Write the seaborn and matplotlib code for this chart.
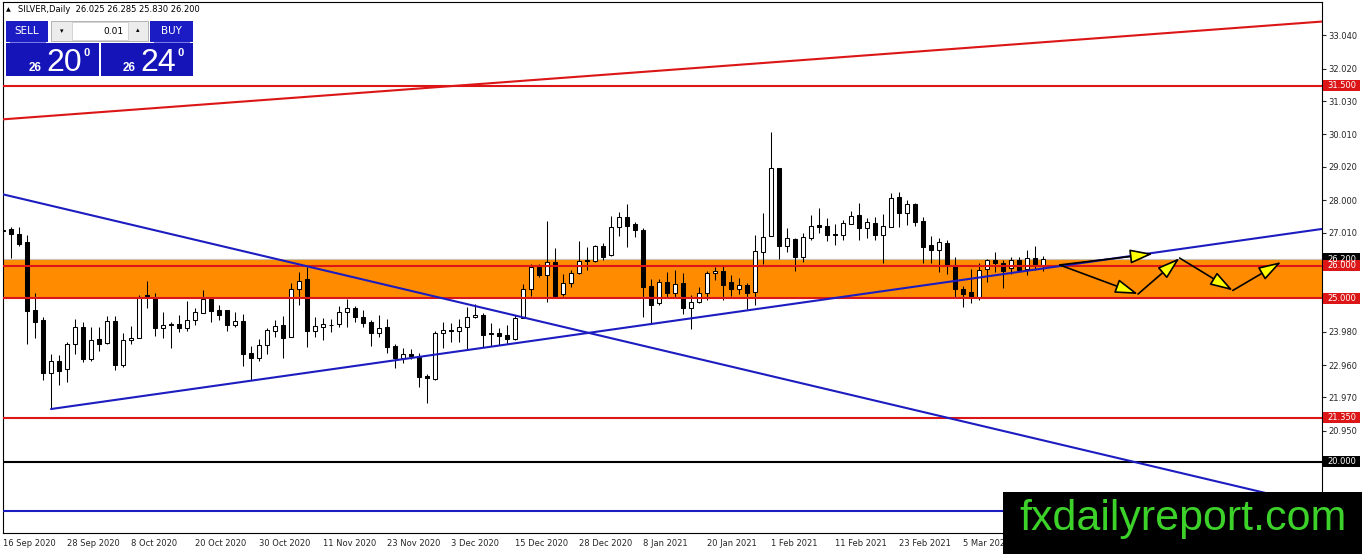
# -*- coding: utf-8 -*-
# SILVER daily chart (MT4 style) with levels, trend lines and forecast path
import numpy as np
import pandas as pd
import seaborn as sns
import matplotlib
matplotlib.use("Agg")
import matplotlib.pyplot as plt
from matplotlib.patches import Rectangle, FancyArrowPatch

W, H = 1362, 554

# --------------------------------------------------------------------
# data
# --------------------------------------------------------------------
date_labels = ["16 Sep 2020", "28 Sep 2020", "8 Oct 2020", "20 Oct 2020",
               "30 Oct 2020", "11 Nov 2020", "23 Nov 2020", "3 Dec 2020",
               "15 Dec 2020", "28 Dec 2020", "8 Jan 2021", "20 Jan 2021",
               "1 Feb 2021", "11 Feb 2021", "23 Feb 2021", "5 Mar 2021"]
label_step = 8

opens = [27.10, 27.11, 26.97, 26.72, 24.64, 24.34, 22.71, 23.07, 22.83, 23.59,
         24.11, 23.15, 23.76, 23.62, 24.30, 22.97, 23.72, 23.78, 25.09, 25.00,
         24.08, 24.21, 24.21, 24.08, 24.33, 24.56, 24.97, 24.64, 24.64, 24.18,
         24.31, 23.32, 23.18, 23.56, 24.01, 24.18, 23.83, 25.29, 25.59, 24.01,
         24.13, 24.19, 24.20, 24.58, 24.69, 24.42, 24.29, 23.95, 24.11, 23.54,
         23.18, 23.29, 23.21, 22.62, 22.53, 23.93, 24.02, 23.99, 24.12, 24.42,
         24.49, 23.93, 23.93, 23.89, 23.76, 24.41, 25.28, 25.95, 25.71, 26.10,
         25.12, 25.46, 25.76, 26.16, 26.15, 26.60, 26.32, 27.17, 27.47, 27.26,
         27.09, 25.37, 24.85, 25.49, 25.15, 25.46, 24.69, 24.90, 25.15, 25.76,
         25.83, 25.49, 25.27, 25.41, 25.20, 26.43, 26.91, 28.99, 26.61, 26.81,
         26.27, 26.83, 27.24, 27.21, 26.97, 26.93, 27.27, 27.55, 27.16, 27.31,
         26.95, 27.19, 28.11, 27.60, 27.88, 27.36, 26.63, 26.48, 26.70, 26.02,
         25.28, 25.18, 25.03, 25.89, 26.17, 26.07, 25.92, 26.17, 25.89, 26.22,
         26.025]
highs = [27.39, 27.19, 27.17, 26.94, 25.17, 24.42, 23.30, 23.27, 23.67, 24.37,
         24.29, 24.13, 24.13, 24.46, 24.46, 23.93, 24.15, 25.10, 25.54, 25.15,
         24.57, 24.29, 24.48, 24.92, 24.70, 25.25, 25.05, 24.80, 24.64, 24.59,
         24.52, 23.54, 23.77, 24.08, 24.34, 24.46, 25.46, 25.80, 25.97, 24.42,
         24.39, 24.36, 24.77, 24.97, 24.76, 24.64, 24.34, 24.49, 24.36, 23.60,
         23.47, 23.44, 23.32, 22.69, 24.00, 24.29, 24.23, 24.36, 24.74, 24.82,
         24.54, 24.23, 24.08, 24.18, 24.49, 25.44, 26.05, 26.05, 27.36, 26.53,
         25.74, 25.86, 26.75, 26.58, 26.63, 26.68, 27.52, 27.64, 27.88, 27.34,
         27.14, 25.59, 25.59, 25.81, 25.86, 25.76, 25.10, 25.35, 25.83, 25.97,
         26.02, 25.71, 25.61, 25.46, 26.93, 27.60, 30.07, 28.99, 27.14, 26.85,
         27.01, 27.55, 27.75, 27.46, 27.26, 27.39, 27.67, 27.90, 27.44, 27.47,
         27.57, 28.23, 28.26, 28.00, 27.92, 27.47, 26.90, 26.85, 26.78, 26.25,
         25.38, 25.89, 26.09, 26.20, 26.42, 26.17, 26.25, 26.25, 26.48, 26.60,
         26.285]
lows = [26.80, 26.22, 26.60, 23.60, 23.78, 22.50, 21.62, 22.35, 22.45, 23.30,
        23.06, 23.09, 23.40, 23.60, 22.81, 22.91, 23.59, 23.78, 24.71, 23.86,
        23.80, 23.49, 23.97, 24.01, 24.18, 24.54, 24.29, 24.34, 24.01, 24.11,
        22.93, 22.50, 23.09, 23.30, 23.83, 23.16, 23.83, 24.80, 23.50, 23.81,
        23.72, 23.98, 24.11, 24.13, 24.29, 24.11, 23.54, 23.83, 23.32, 22.86,
        23.03, 23.13, 22.28, 21.81, 22.50, 23.49, 23.67, 23.67, 23.44, 24.40,
        23.52, 23.54, 23.57, 23.60, 23.74, 24.39, 25.07, 25.64, 24.90, 25.03,
        25.07, 25.36, 25.74, 25.86, 26.12, 26.17, 26.30, 26.91, 26.56, 26.86,
        24.42, 24.23, 24.80, 25.05, 25.05, 24.51, 24.06, 24.85, 24.95, 25.56,
        24.95, 25.08, 25.12, 24.67, 24.79, 26.04, 26.91, 26.20, 26.42, 25.83,
        26.12, 26.78, 26.99, 26.75, 26.63, 26.78, 27.26, 26.77, 26.83, 26.78,
        26.09, 27.17, 27.19, 27.24, 27.21, 26.07, 26.07, 25.81, 25.73, 25.03,
        24.74, 24.87, 24.95, 25.51, 25.81, 25.33, 25.74, 25.84, 25.71, 25.86,
        25.83]
closes = [27.06, 26.96, 26.66, 24.62, 24.29, 22.71, 23.07, 22.79, 23.59, 24.11,
          23.15, 23.72, 23.61, 24.30, 22.97, 23.72, 23.79, 25.05, 25.04, 24.08,
          24.18, 24.19, 24.08, 24.33, 24.57, 24.97, 24.62, 24.49, 24.18, 24.31,
          23.30, 23.18, 23.56, 24.03, 24.15, 23.80, 25.29, 25.52, 24.01, 24.15,
          24.20, 24.17, 24.58, 24.69, 24.42, 24.26, 23.95, 24.08, 23.50, 23.18,
          23.29, 23.23, 22.60, 22.55, 23.93, 24.02, 23.99, 24.12, 24.44, 24.49,
          23.87, 23.90, 23.85, 23.76, 24.41, 25.28, 25.97, 25.71, 26.10, 25.07,
          25.46, 25.76, 26.15, 26.13, 26.60, 26.25, 27.17, 27.47, 27.22, 27.09,
          25.35, 24.81, 25.49, 25.15, 25.43, 24.69, 24.88, 25.15, 25.76, 25.83,
          25.41, 25.27, 25.40, 25.17, 26.45, 26.88, 28.99, 26.61, 26.83, 26.27,
          26.87, 27.21, 27.19, 26.94, 26.93, 27.29, 27.52, 27.16, 27.32, 26.93,
          27.21, 28.06, 27.60, 27.87, 27.34, 26.58, 26.48, 26.71, 26.02, 25.27,
          25.13, 25.03, 25.87, 26.17, 26.07, 25.84, 26.17, 25.87, 26.22, 26.05,
          26.20]

# horizontal levels
red_levels = [31.50, 26.00, 25.00, 21.35]
black_level = 20.00
blue_level = 18.50
bid_price = 26.20
zone_low, zone_high = 24.97, 26.17

# trend lines: (bar index, price)
upper_red_x, upper_red_y = [-0.04, 164.9], [30.47, 33.46]
desc_blue_x, desc_blue_y = [-0.04, 164.9], [28.18, 18.64]
asc_blue_x, asc_blue_y = [6, 164.9], [21.615, 27.12]

# forecast arrows
path_x = [132.1, 141.9, 147.1, 153.75, 159.8]
path_y = [26.02, 25.13, 26.23, 25.24, 26.11]
alt_x = [132.1, 143.75]
alt_y = [26.02, 26.36]

y_ticks = [33.04, 32.02, 31.03, 30.01, 29.02, 28.00, 27.01,
           23.98, 22.96, 21.97, 20.95]

# --------------------------------------------------------------------
# style
# --------------------------------------------------------------------
sns.set_style("white")
plt.rcParams["font.family"] = ["DejaVu Sans"]

RED = "#dc1616"
BLUE = "#1c1cc0"
ORANGE = "#ff8c00"
FS = 6.0

fig = plt.figure(figsize=(W / 100, H / 100), dpi=100)
ax = fig.add_axes([2.7 / W, (H - 533) / H, (1322 - 2.7) / W, (533 - 1.7) / H])
ax.set_xlim(-0.04, 164.9)
ax.set_ylim(17.825, 34.067)

# zone + levels
ax.axhspan(zone_low, zone_high, color=ORANGE, lw=0, zorder=1)
ax.axhline(bid_price, color="#c8c0b0", lw=0.8, zorder=1.5)
for lv in red_levels:
    ax.axhline(lv, color=RED, lw=1.5, zorder=5)
ax.axhline(black_level, color="black", lw=1.5, zorder=5)
ax.axhline(blue_level, color=BLUE, lw=1.5, zorder=5)

# candles
df = pd.DataFrame({"o": opens, "h": highs, "l": lows, "c": closes})
df["i"] = np.arange(len(df))
up = df["c"] >= df["o"]
ax.vlines(df["i"], df["l"], df["h"], color="black", lw=0.75, zorder=3)
ax.bar(df["i"][up], (df["c"] - df["o"])[up], bottom=df["o"][up], width=0.56,
       color="white", edgecolor="black", lw=0.75, zorder=4)
ax.bar(df["i"][~up], (df["o"] - df["c"])[~up], bottom=df["c"][~up], width=0.56,
       color="black", edgecolor="black", lw=0.75, zorder=4)

# trend lines
sns.lineplot(x=upper_red_x, y=upper_red_y, color=RED, lw=1.5, ax=ax, zorder=5)
sns.lineplot(x=desc_blue_x, y=desc_blue_y, color=BLUE, lw=1.5, ax=ax, zorder=5)
sns.lineplot(x=asc_blue_x, y=asc_blue_y, color=BLUE, lw=1.5, ax=ax, zorder=5)

# forecast arrows
segs = [(alt_x[0], alt_y[0], alt_x[1], alt_y[1])]
segs += [(path_x[k], path_y[k], path_x[k + 1], path_y[k + 1]) for k in range(len(path_x) - 1)]
for x0, y0, x1, y1 in segs:
    ax.add_patch(FancyArrowPatch((x0, y0), (x1, y1),
                                 arrowstyle="-|>,head_length=0.7,head_width=0.22",
                                 mutation_scale=20, fc="#ffff00", ec="black",
                                 lw=1.2, shrinkA=0, shrinkB=0, zorder=6))

# axes
for s in ax.spines.values():
    s.set_color("black")
    s.set_linewidth(0.8)
ax.yaxis.tick_right()
ax.set_yticks(y_ticks)
ax.set_yticklabels(["{:.3f}".format(v) for v in y_ticks])
ax.set_xticks(np.arange(len(date_labels)) * label_step)
ax.set_xticklabels(date_labels, ha="left")
ax.tick_params(axis="y", direction="out", length=3, width=0.8, pad=1.5, labelsize=FS)
ax.tick_params(axis="x", direction="out", length=3, width=0.8, pad=1.5, labelsize=FS)
ax.set_xlabel("")
ax.set_ylabel("")


def price_box(val, fc):
    tr = ax.get_yaxis_transform()
    ax.add_patch(Rectangle((1.0006, val - 0.17), 0.0285, 0.34, transform=tr,
                           fc=fc, ec="none", clip_on=False, zorder=8))
    ax.text(1.0006 + 0.01425, val, "{:.3f}".format(val), transform=tr,
            ha="center", va="center", color="white", fontsize=FS,
            clip_on=False, zorder=9)


price_box(bid_price, "black")
for lv in red_levels:
    price_box(lv, RED)
price_box(black_level, "black")


# --------------------------------------------------------------------
# MT4 overlays (pixel coords)
# --------------------------------------------------------------------
def rect(x0, y0, x1, y1, fc, ec="none", lw=0, z=10):
    fig.add_artist(Rectangle((x0 / W, 1 - y1 / H), (x1 - x0) / W, (y1 - y0) / H,
                             transform=fig.transFigure, fc=fc, ec=ec, lw=lw, zorder=z))


def txt(x, y, s, z=11, **kw):
    fig.text(x / W, 1 - y / H, s, zorder=z, **kw)


txt(6, 10, "\u25b2", fontsize=4.5, va="center", color="black")
txt(18, 10, "SILVER,Daily  26.025 26.285 25.830 26.200", fontsize=6,
    va="center", color="black")

# trade panel
rect(6, 21, 48, 42, "#1c1cc4")
rect(150, 21, 193, 42, "#1c1cc4")
rect(6, 43, 99, 76, "#1414b8")
rect(101, 43, 193, 76, "#1414b8")
rect(10, 42, 46, 43, "#7a7ae6", z=11)
rect(154, 42, 190, 43, "#7a7ae6", z=11)
rect(51, 21, 148, 41, "#ececec", ec="#a8a8a8", lw=0.6)
rect(72, 22, 128, 40, "white", ec="#c8c8c8", lw=0.5)
txt(27, 31.5, "SELL", fontsize=7.5, color="white", ha="center", va="center")
txt(171, 31.5, "BUY", fontsize=7.5, color="white", ha="center", va="center")
txt(61.5, 31, "\u25be", fontsize=5, color="black", ha="center", va="center")
txt(138, 30, "\u25b4", fontsize=5, color="black", ha="center", va="center")
txt(124, 31, "0.01", fontsize=6.5, color="black", ha="right", va="center")

big = dict(color="white", family="Liberation Sans", va="baseline")
txt(29, 71, "26", fontsize=8.5, fontweight="bold", **big)
txt(46, 71, "20", fontsize=23, **big)
txt(83, 56, "0", fontsize=8, fontweight="bold", **big)
txt(123, 71, "26", fontsize=8.5, fontweight="bold", **big)
txt(140, 71, "24", fontsize=23, **big)
txt(177, 56, "0", fontsize=8, fontweight="bold", **big)

# watermark
rect(1003, 492, 1362, 554, "black", z=12)
txt(1183, 519, "fxdailyreport.com", z=13, fontsize=31, color="#3cd22a",
    family="Liberation Sans", ha="center", va="center")

fig.savefig("out.png", dpi=100)
